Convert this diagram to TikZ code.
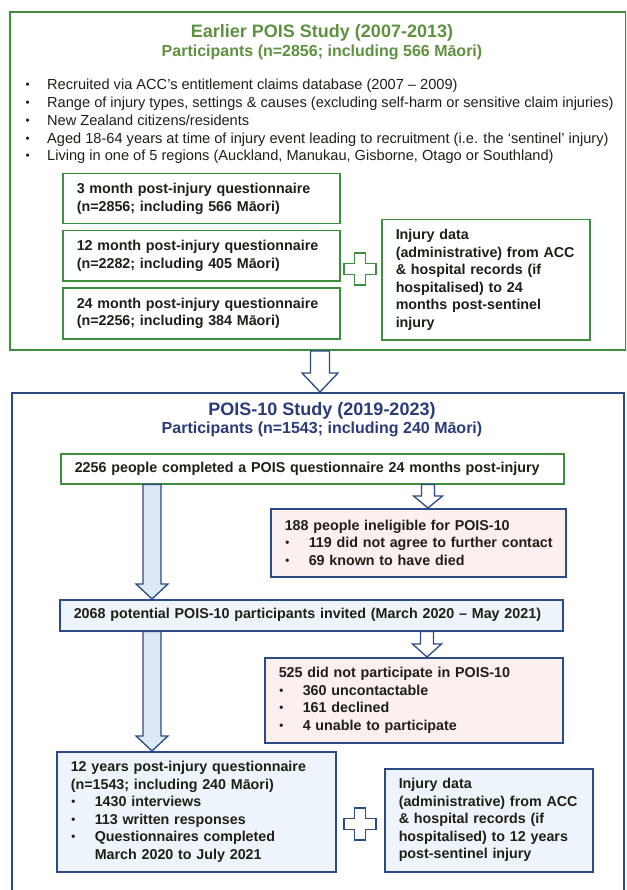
\documentclass[tikz,border=0pt]{standalone}
\usepackage{fontspec}
\setmainfont{Liberation Sans}
\usepackage{graphicx}
\usetikzlibrary{calc}
\definecolor{gline}{HTML}{3E8E3E}
\definecolor{gtitle}{HTML}{5E9140}
\definecolor{bline}{HTML}{2C4A86}
\definecolor{btitle}{HTML}{2B3A7A}
\definecolor{bfill}{HTML}{EEF4FB}
\definecolor{afill}{HTML}{DCE8F5}
\definecolor{pfill}{HTML}{FBEFF0}
\definecolor{txt}{HTML}{1F1F16}
\newcommand\bul{\makebox[24pt][l]{\hspace{0.5pt}\raisebox{1pt}{\scalebox{0.8}{\textbullet}}}}
\newcommand\tbul{\makebox[22pt][l]{\hspace{0.5pt}\raisebox{1pt}{\scalebox{0.8}{\textbullet}}}}
% block arrow from node #1 (south) to node #2 (north) at x=#3
\newcommand\barrow[7]{%
  \path[#7] let \p1=(#1.south), \p2=(#2.north) in
    ({#3pt-#4pt},\y1) -- ({#3pt+#4pt},\y1) -- ({#3pt+#4pt},{\y2+#6pt})
    -- ({#3pt+#5pt},{\y2+#6pt}) -- (#3pt,\y2) -- ({#3pt-#5pt},{\y2+#6pt})
    -- ({#3pt-#4pt},{\y2+#6pt}) -- cycle;}
% plus sign: name, centre, half size, half arm, style
\newcommand\plusshape[5]{%
  \coordinate (#1) at (#2);
  \path[#5, shift={(#1)}] (-#4,-#3) -- (#4,-#3) -- (#4,-#4) -- (#3,-#4) -- (#3,#4)
    -- (#4,#4) -- (#4,#3) -- (-#4,#3) -- (-#4,#4) -- (-#3,#4) -- (-#3,-#4)
    -- (-#4,-#4) -- cycle;}
\tikzset{
  box/.style={draw, line width=1.5pt, inner xsep=14pt, inner ysep=0pt,
    anchor=north west, align=left, text=txt,
    font=\bfseries\fontsize{14.3}{17.5}\selectfont},
  gbox/.style={box, draw=gline, fill=white},
  bbox/.style={box, draw=bline, fill=bfill},
  pbox/.style={box, draw=bline, fill=pfill},
  outer/.style={line width=2pt, anchor=north west, inner sep=0pt},
  bullettext/.style={anchor=base west, inner sep=0pt, text=txt,
    font=\fontsize{14.6}{17.5}\selectfont},
  gtitlestyle/.style={text=gtitle, inner sep=0pt, font=\bfseries\fontsize{18}{21}\selectfont},
  gsubstyle/.style={text=gtitle, inner sep=0pt, font=\bfseries\fontsize{16}{19}\selectfont},
  btitlestyle/.style={text=btitle, inner sep=0pt, font=\bfseries\fontsize{18}{21}\selectfont},
  bsubstyle/.style={text=btitle, inner sep=0pt, font=\bfseries\fontsize{16}{19}\selectfont},
  whitearrow/.style={draw=bline, fill=white, line width=1.3pt, line join=miter},
  bluearrow/.style={draw=bline, fill=afill, line width=1.3pt, line join=miter},
  gplus/.style={draw=gline, fill=white, line width=1.5pt},
  bplus/.style={draw=bline, fill=white, line width=1.5pt},
}
\begin{document}
\begin{tikzpicture}[x=1pt,y=-1pt]
\useasboundingbox (0,0) rectangle (626,890);
\clip (0,0) rectangle (626,890);

% ---------- Earlier POIS study ----------
\node[outer, draw=gline, minimum width=616pt, minimum height=338pt] (earlier) at (9,11) {};
\node[gtitlestyle] (t1) at (322,33) {Earlier POIS Study (2007-2013)};
\node[gsubstyle] (t2) at (322,52) {Participants (n=2856; including 566 Māori)};

\node[bullettext] (l1) at (25,90) {\tbul Recruited via ACC’s entitlement claims database (2007 – 2009)};
\node[bullettext] (l2) at (25,108) {\tbul Range of injury types, settings \& causes (excluding self-harm or sensitive claim injuries)};
\node[bullettext] (l3) at (25,126) {\tbul New Zealand citizens/residents};
\node[bullettext] (l4) at (25,143.5) {\tbul Aged 18-64 years at time of injury event leading to recruitment (i.e. the ‘sentinel’ injury)};
\node[bullettext] (l5) at (25,161) {\tbul Living in one of 5 regions (Auckland, Manukau, Gisborne, Otago or Southland)};

\node[gbox, minimum width=277pt, minimum height=50pt, text width=249pt] (m3) at (62,173)
  {3 month post-injury questionnaire\\(n=2856; including 566 Māori)};
\node[gbox, minimum width=277pt, minimum height=50pt, text width=249pt] (m12) at (62,230)
  {12 month post-injury questionnaire\\(n=2282; including 405 Māori)};
\node[gbox, minimum width=277pt, minimum height=51pt, text width=249pt] (m24) at (62,287)
  {24 month post-injury questionnaire\\(n=2256; including 384 Māori)};
\node[gbox, minimum width=208pt, minimum height=120pt, text width=180pt] (inj1) at (381,219)
  {Injury data\\(administrative) from ACC\\\& hospital records (if\\hospitalised) to 24\\months post-sentinel\\injury};
\plusshape{plus1}{360,269}{16}{5.5}{gplus}

% ---------- POIS-10 study ----------
\node[outer, draw=bline, minimum width=612pt, minimum height=530pt] (pois) at (11,392) {};
\barrow{earlier}{pois}{320}{9.5}{18}{19}{whitearrow}
\node[btitlestyle] (t3) at (322,411) {POIS-10 Study (2019-2023)};
\node[bsubstyle] (t4) at (322,429) {Participants (n=1543; including 240 Māori)};

\node[gbox, minimum width=503pt, minimum height=30pt, text width=475pt] (s2256) at (60,453)
  {2256 people completed a POIS questionnaire 24 months post-injury};
\node[pbox, minimum width=295pt, minimum height=68pt, text width=267pt] (inel) at (270,508)
  {188 people ineligible for POIS-10\\\mbox{\bul 119 did not agree to further contact}\\\bul 69 known to have died};
\node[bbox, minimum width=503pt, minimum height=31pt, text width=475pt] (s2068) at (59,599)
  {2068 potential POIS-10 participants invited (March 2020 – May 2021)};
\node[pbox, minimum width=298pt, minimum height=85pt, text width=270pt] (notp) at (264,657)
  {525 did not participate in POIS-10\\\bul 360 uncontactable\\\bul 161 declined\\\bul 4 unable to participate};
\node[bbox, minimum width=279pt, minimum height=120pt, text width=251pt] (y12) at (56,751)
  {12 years post-injury questionnaire\\(n=1543; including 240 Māori)\\\bul 1430 interviews\\\bul 113 written responses\\\bul Questionnaires completed\\\hspace*{24pt}March 2020 to July 2021};
\node[bbox, minimum width=208pt, minimum height=103pt, text width=180pt] (inj2) at (384,768)
  {Injury data\\(administrative) from ACC\\\& hospital records (if\\hospitalised) to 12 years\\post-sentinel injury};
\plusshape{plus2}{360,824}{16}{5.5}{bplus}

\barrow{s2256}{s2068}{152}{9}{16}{15}{bluearrow}
\barrow{s2068}{y12}{152}{9}{16}{15}{bluearrow}
\barrow{s2256}{inel}{428}{6.5}{14.5}{12}{whitearrow}
\barrow{s2068}{notp}{427}{6.5}{14.5}{13}{whitearrow}
\end{tikzpicture}
\end{document}
